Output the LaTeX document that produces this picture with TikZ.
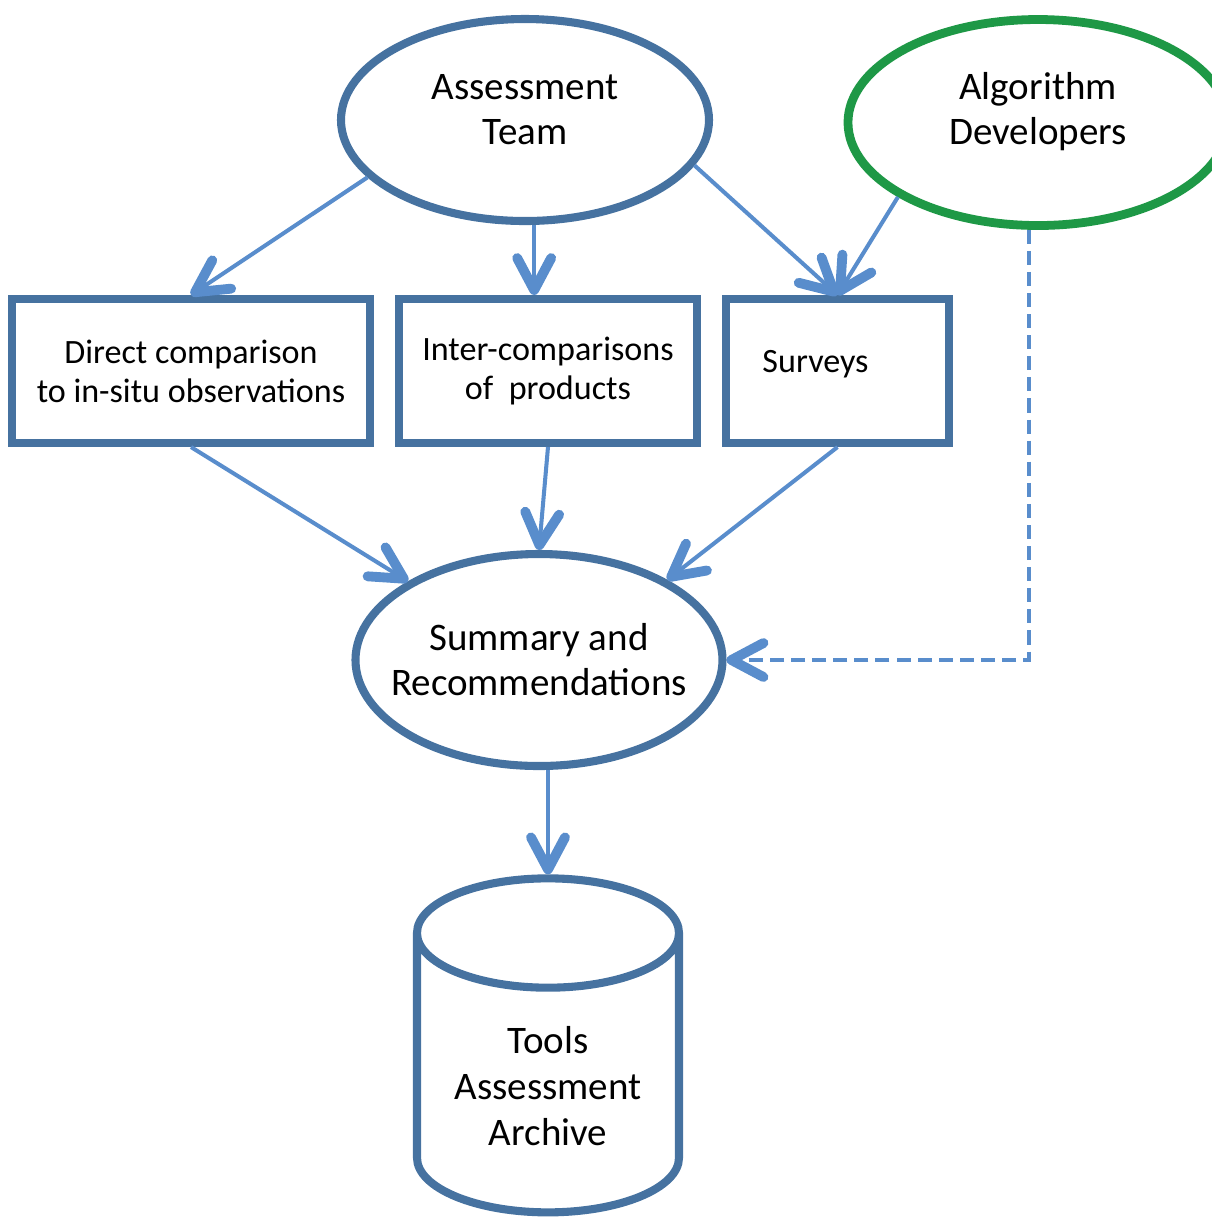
\documentclass[tikz,border=0pt]{standalone}
\usepackage{fontspec}
\setmainfont{Carlito}
\usepackage{xcolor}
\usepackage{tikz}
\usetikzlibrary{shapes.geometric, positioning, arrows.meta}

\definecolor{outline}{RGB}{70,114,160}
\definecolor{arrowblue}{RGB}{89,141,204}
\definecolor{devgreen}{RGB}{30,152,70}

\begin{document}
\begin{tikzpicture}[
    bigfont/.style={font=\fontsize{11.1}{12.8}\selectfont},
    boxfont/.style={font=\fontsize{9.7}{11.1}\selectfont},
    oval/.style={ellipse, draw=outline, line width=2.3pt, align=center, bigfont, inner sep=0pt},
    box/.style={rectangle, draw=outline, line width=2.3pt, align=center, boxfont, minimum height=1.44cm},
    flow/.style={draw=arrowblue, line width=1.15pt, -{Straight Barb[length=3.2mm, width=3.4mm, line width=2.8pt, round]}}
]
    \useasboundingbox (0,0) rectangle (12.12,-12.17);
    % ovals
    \node[oval, minimum width=3.68cm, minimum height=2.02cm, text depth=0.21cm] (team) at (5.25,-1.20) {Assessment\\Team};
    \node[oval, draw=devgreen, line width=2.5pt, minimum width=3.80cm, minimum height=2.06cm, text depth=0.28cm] (algo) at (10.38,-1.225) {Algorithm\\Developers};
    \node[oval, inner xsep=-0.2cm, minimum width=3.67cm, minimum height=2.12cm] (summary) at (5.39,-6.60) {Summary and\\Recommendations};
    % boxes
    \node[box, minimum width=3.58cm] (direct) at (1.91,-3.71) {Direct comparison\\to in-situ observations};
    \node[box, minimum width=2.98cm] (inter) at (5.48,-3.71) {Inter-comparisons\\of~ products};
    \node[box, minimum width=2.23cm, text width=1.5cm, align=left, text depth=0.19cm] (surveys) at (8.375,-3.71) {Surveys};
    % archive
    \node[cylinder, shape border rotate=90, aspect=0.52, draw=outline, line width=2.3pt, minimum width=2.62cm, minimum height=3.34cm, align=center, font=\fontsize{11.1}{13.2}\selectfont] (archive) at (5.48,-10.86) {Tools\\Assessment\\Archive};
    % arrows
    \draw[flow] (team.200) -- (direct.north);
    \draw[flow] (team.275) -- (team.275 |- inter.north);
    \draw[flow] (team.345) -- (surveys.north);
    \draw[flow] (algo.208) -- (surveys.north);
    \draw[flow] (direct.south) -- (summary.149);
    \draw[flow] (inter.south) -- (summary.north);
    \draw[flow] (surveys.south) -- (summary.32);
    \draw[flow, dash pattern=on 4pt off 2pt] (algo.265) |- (summary.east);
    \draw[flow] (archive.top |- summary.south) -- (archive.top);
\end{tikzpicture}
\end{document}
